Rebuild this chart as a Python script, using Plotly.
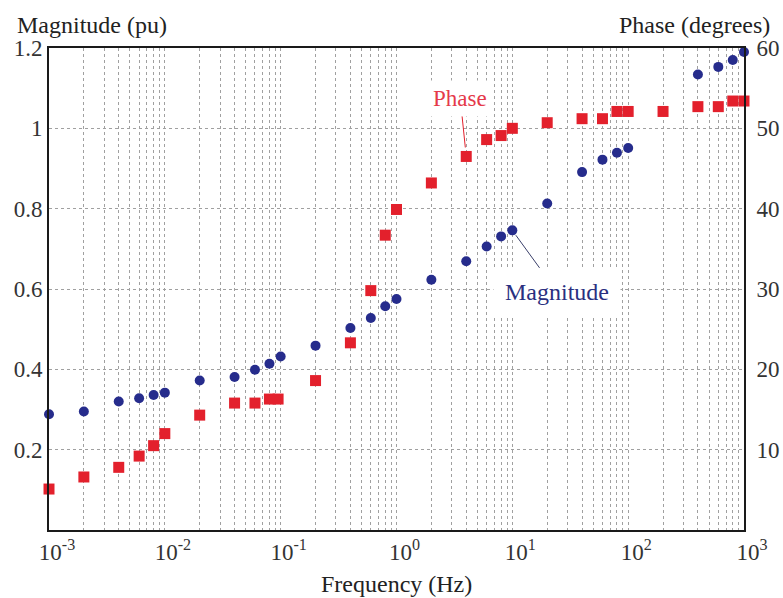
import plotly.graph_objects as go

# ---- data ----
mag_freq = [0.001, 0.002, 0.004, 0.006, 0.008, 0.01, 0.02, 0.04, 0.06, 0.08, 0.1,
            0.2, 0.4, 0.6, 0.8, 1, 2, 4, 6, 8, 10, 20, 40, 60, 80, 100,
            400, 600, 800, 1000]
mag_vals = [0.288, 0.295, 0.320, 0.328, 0.336, 0.342, 0.372, 0.381, 0.399, 0.414, 0.432,
            0.459, 0.503, 0.528, 0.557, 0.575, 0.623, 0.669, 0.706, 0.731, 0.746, 0.813,
            0.891, 0.922, 0.939, 0.951, 1.134, 1.153, 1.170, 1.190]

phase_freq = [0.001, 0.002, 0.004, 0.006, 0.008, 0.01, 0.02, 0.04, 0.06, 0.08, 0.095,
              0.2, 0.4, 0.6, 0.8, 1, 2, 4, 6, 8, 10, 20, 40, 60, 80, 100,
              200, 400, 600, 800, 1000]
phase_vals = [5.1, 6.6, 7.8, 9.2, 10.5, 12.0, 14.3, 15.8, 15.8, 16.3, 16.3,
              18.6, 23.3, 29.8, 36.7, 39.9, 43.2, 46.5, 48.6, 49.1, 50.0, 50.7,
              51.2, 51.2, 52.1, 52.1, 52.1, 52.7, 52.7, 53.4, 53.4]

x_tickvals = [0.001, 0.01, 0.1, 1, 10, 100, 1000]
x_ticktext = ["10<sup>-3</sup>", "10<sup>-2</sup>", "10<sup>-1</sup>", "10<sup>0</sup>",
              "10<sup>1</sup>", "10<sup>2</sup>", "10<sup>3</sup>"]
mag_tickvals = [0.2, 0.4, 0.6, 0.8, 1.0, 1.2]
mag_ticktext = ["0.2", "0.4", "0.6", "0.8", "1", "1.2"]
phase_tickvals = [10, 20, 30, 40, 50, 60]
phase_ticktext = ["10", "20", "30", "40", "50", "60"]

BLUE = "#262c8c"
RED = "#e3202c"
GRID = "#a0a0a0"
FONT = "Liberation Serif"

fig = go.Figure()
fig.add_trace(go.Scatter(
    x=mag_freq, y=mag_vals, mode="markers", name="Magnitude",
    marker=dict(symbol="circle", size=10, color=BLUE),
    yaxis="y", cliponaxis=False))
fig.add_trace(go.Scatter(
    x=phase_freq, y=phase_vals, mode="markers", name="Phase",
    marker=dict(symbol="square", size=11, color=RED),
    yaxis="y2", cliponaxis=False))

fig.update_layout(
    width=783, height=598,
    margin=dict(l=49, r=39, t=48, b=68, autoexpand=False),
    paper_bgcolor="white", plot_bgcolor="white",
    showlegend=False,
    font=dict(family=FONT, size=23, color="#333333"),
    xaxis=dict(
        type="log", range=[-3, 3], automargin=False,
        tickmode="array", tickvals=x_tickvals, ticktext=x_ticktext,
        ticks="", ticklabelshift=8,
        showgrid=True, gridcolor=GRID, griddash="dot", gridwidth=1,
        minor=dict(dtick="D1", showgrid=True, gridcolor=GRID, griddash="dot", gridwidth=1, ticks=""),
        showline=True, linecolor="#1a1a1a", linewidth=2, mirror=True,
        zeroline=False,
        tickfont=dict(family=FONT, size=23, color="#333333"),
    ),
    yaxis=dict(
        range=[0, 1.2], automargin=False,
        tickmode="array", tickvals=mag_tickvals, ticktext=mag_ticktext,
        ticks="",
        showgrid=True, gridcolor=GRID, griddash="dot", gridwidth=1,
        showline=True, linecolor="#1a1a1a", linewidth=2, mirror=True,
        zeroline=False,
        tickfont=dict(family=FONT, size=23, color="#333333"),
    ),
    yaxis2=dict(
        range=[0, 60], overlaying="y", side="right", automargin=False,
        tickmode="array", tickvals=phase_tickvals, ticktext=phase_ticktext,
        ticks="", ticklabelstandoff=6,
        showgrid=False, zeroline=False,
        showline=True, linecolor="#1a1a1a", linewidth=2,
        tickfont=dict(family=FONT, size=23, color="#333333"),
    ),
)

# axis titles
fig.add_annotation(text="Magnitude (pu)", xref="paper", yref="paper",
                   x=-0.049, y=1.047, xanchor="left", yanchor="middle", showarrow=False,
                   font=dict(family=FONT, size=24, color="#222222"))
fig.add_annotation(text="Phase (degrees)", xref="paper", yref="paper",
                   x=1.040, y=1.047, xanchor="right", yanchor="middle", showarrow=False,
                   font=dict(family=FONT, size=24, color="#222222"))
fig.add_annotation(text="Frequency (Hz)", xref="paper", yref="paper",
                   x=0.5, y=-0.111, xanchor="center", yanchor="middle", showarrow=False,
                   font=dict(family=FONT, size=24, color="#222222"))

# series labels with leader lines
fig.add_annotation(text="Phase", x=0.6020599913, y=46.5, xref="x", yref="y2",
                   xanchor="center", yanchor="middle",
                   ax=-6, ay=-58, axref="pixel", ayref="pixel",
                   showarrow=True, arrowhead=0, arrowwidth=1, arrowcolor=RED, standoff=9,
                   bgcolor="white", borderpad=5,
                   font=dict(family=FONT, size=23, color="#e5394a"))
fig.add_annotation(text="Magnitude", x=1, y=0.746, xref="x", yref="y",
                   xanchor="center", yanchor="middle",
                   ax=45, ay=62, axref="pixel", ayref="pixel",
                   showarrow=True, arrowhead=0, arrowwidth=1, arrowcolor="#3a3f6a", standoff=6,
                   bgcolor="white", borderpad=11,
                   font=dict(family=FONT, size=24, color="#2a2f80"))

fig.write_html("out.html", config={"displayModeBar": False},
               post_script="document.body.style.margin='0px';document.body.style.padding='0px';")
